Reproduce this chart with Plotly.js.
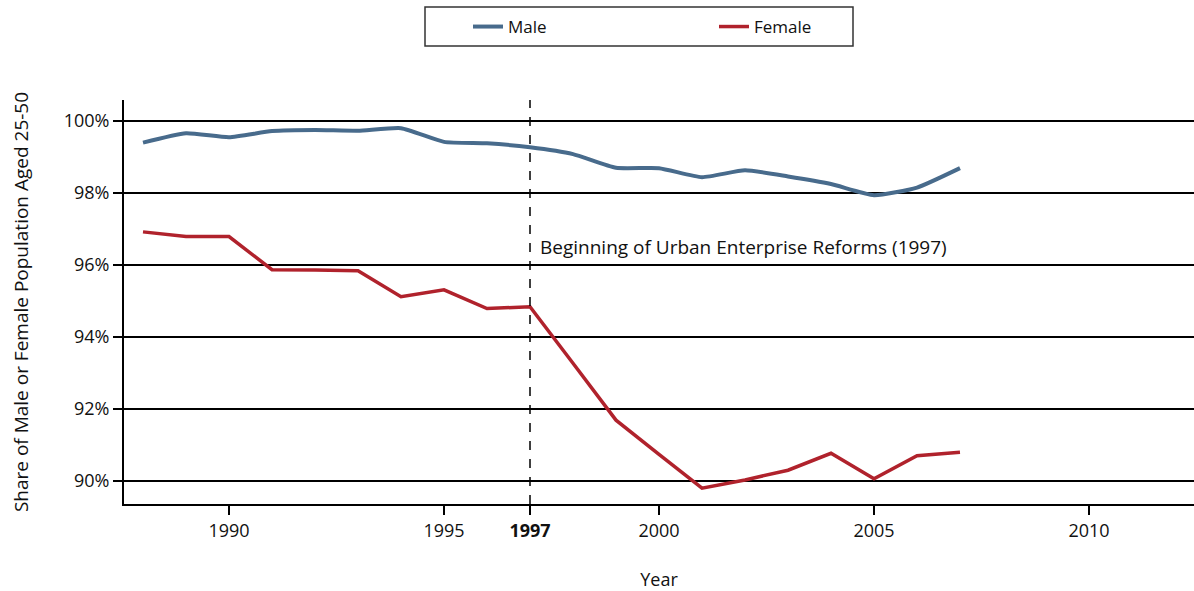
<!DOCTYPE html>
<html>
<head>
<meta charset="utf-8">
<script src="https://cdn.plot.ly/plotly-3.0.1.min.js"></script>
<style>html,body{margin:0;padding:0;background:#fff;}#chart{width:1194px;height:591px;}</style>
</head>
<body>
<div id="chart"></div>
<script>
var years = [1988,1989,1990,1991,1992,1993,1994,1995,1996,1997,1998,1999,2000,2001,2002,2003,2004,2005,2006,2007];
var maleShare = [99.40,99.66,99.55,99.72,99.75,99.73,99.80,99.42,99.38,99.27,99.08,98.70,98.69,98.44,98.63,98.46,98.25,97.94,98.15,98.69];
var femaleShare = [96.92,96.79,96.79,95.87,95.86,95.84,95.12,95.31,94.79,94.84,93.27,91.69,90.74,89.80,90.03,90.30,90.77,90.06,90.70,90.80];
var xTickVals = [1990,1995,1997,2000,2005,2010];
var xTickText = ['1990','1995','<b>1997</b>','2000','2005','2010'];
var yTickVals = [90,92,94,96,98,100];
var yTickText = ['90%','92%','94%','96%','98%','100%'];
var reformYear = 1997;
var reformLabel = 'Beginning of Urban Enterprise Reforms (1997)';

var FONT = 'Open Sans, Noto Sans, sans-serif';

var traces = [
  {x: years, y: maleShare, name: 'Male', type: 'scatter', mode: 'lines',
   line: {color: '#486b8c', width: 4, shape: 'spline', smoothing: 0.5}},
  {x: years, y: femaleShare, name: 'Female', type: 'scatter', mode: 'lines',
   line: {color: '#b0222c', width: 3.5}}
];

var layout = {
  width: 1194, height: 591,
  margin: {l: 124, r: 0, t: 100, b: 87},
  paper_bgcolor: '#fff', plot_bgcolor: '#fff',
  font: {family: FONT, size: 16, color: '#111'},
  showlegend: true,
  legend: {
    orientation: 'h', xref: 'container', yref: 'container',
    x: 468/1194, xanchor: 'left', y: 1 - 9/591, yanchor: 'top',
    borderwidth: 0, bgcolor: 'rgba(0,0,0,0)',
    entrywidth: 201, entrywidthmode: 'pixels',
    font: {family: FONT, size: 17, color: '#111'}
  },
  xaxis: {
    range: [1987.558, 2012.442],
    tickvals: xTickVals, ticktext: xTickText,
    ticks: 'outside', ticklen: 9, tickwidth: 2, tickcolor: '#000',
    showline: true, linecolor: '#000', linewidth: 2,
    showgrid: false, zeroline: false,
    tickfont: {family: FONT, size: 18, color: '#111'},
    title: {text: 'Year', font: {family: FONT, size: 18, color: '#111'}, standoff: 36}
  },
  yaxis: {
    range: [89.361, 100.583],
    tickvals: yTickVals, ticktext: yTickText,
    ticks: 'outside', ticklen: 9, tickwidth: 2, tickcolor: '#000',
    showline: true, linecolor: '#000', linewidth: 2,
    showgrid: true, gridcolor: '#000', gridwidth: 2, zeroline: false,
    tickfont: {family: FONT, size: 18, color: '#111'},
    title: {text: 'Share of Male or Female Population Aged 25-50', font: {family: FONT, size: 19, color: '#111'}, standoff: 30}
  },
  shapes: [
    {type: 'line', xref: 'x', yref: 'paper', x0: reformYear, x1: reformYear, y0: 0, y1: 1,
     line: {color: '#000', width: 1.5, dash: 'dash'}},
    {type: 'rect', xref: 'paper', yref: 'paper',
     x0: (425-124)/1070, x1: (853-124)/1070, y0: (504-46)/404, y1: (504-7)/404,
     line: {color: '#333', width: 1.5}, fillcolor: 'rgba(0,0,0,0)', layer: 'below'}
  ],
  annotations: [
    {xref: 'x', yref: 'y', x: reformYear, y: 96.5, xanchor: 'left', yanchor: 'middle', xshift: 8,
     text: reformLabel, showarrow: false, font: {family: FONT, size: 19, color: '#111'}}
  ]
};

Plotly.newPlot('chart', traces, layout, {displayModeBar: false, staticPlot: true});
</script>
</body>
</html>
